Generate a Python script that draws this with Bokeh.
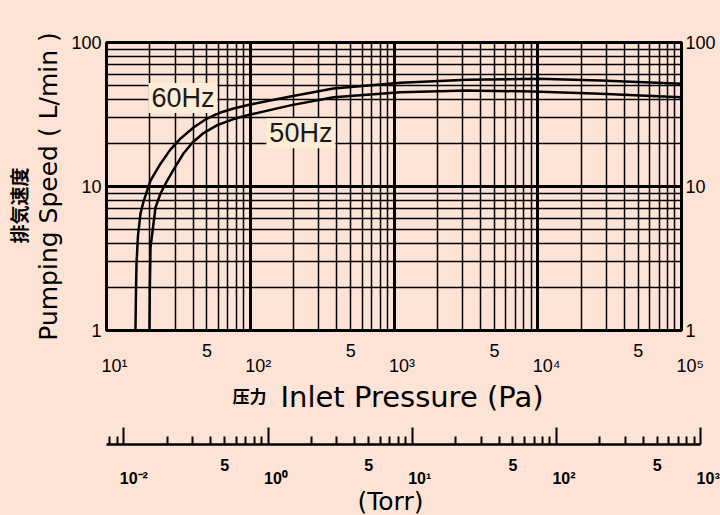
import math
from bokeh.plotting import figure
from bokeh.models import (FixedTicker, LogAxis, Label, Range1d, NumeralTickFormatter,
                          CustomJSTickFormatter, Title)
from bokeh.layouts import column
from bokeh.embed import file_html
from bokeh.resources import INLINE
from bokeh.core.properties import value

# ---------------- data ----------------
pressure_60hz = [15.9, 16.04, 16.17, 16.56, 17.24, 18.18, 20.24, 23.75, 27.9, 32.7, 40.3, 48.8,
                 59.2, 76.5, 100, 190, 379, 1110, 3240, 9960, 27300, 100000]
speed_60hz = [1.0, 1.9, 2.92, 4.57, 6.49, 7.99, 11.0, 14.4, 18.1, 21.5, 25.7, 29.2,
              32.1, 34.8, 37.1, 42.2, 47.9, 52.5, 55.1, 56.0, 54.5, 51.7]

pressure_50hz = [19.91, 20.01, 20.24, 21.06, 21.93, 23.75, 26.44, 30.2, 34.3, 39.7, 47.3, 58.9,
                 76.5, 100, 190, 379, 1110, 3240, 9330, 27300, 100000]
speed_50hz = [1.0, 1.9, 3.77, 5.19, 7.15, 8.94, 11.0, 13.8, 16.95, 20.2, 23.5, 26.7,
              29.4, 31.6, 36.6, 41.7, 45.2, 46.4, 45.7, 44.0, 41.7]

pa_decades = [10, 100, 1000, 10000, 100000]
pa_decade_labels = ["10¹", "10²", "10³", "10⁴", "10⁵"]
pa_fives = [50, 500, 5000, 50000]
speed_ticks = [1, 10, 100]

torr_decades = [0.1, 1, 10, 100, 1000]
torr_decade_labels = ["10⁻²", "10⁰", "10¹", "10²", "10³"]
torr_fives = [0.5, 5, 50, 500]

# ---------------- layout constants ----------------
BG = "#fce3d6"
BOX = "#fdecd6"
ARIAL = "Liberation Sans"
SANS = "DejaVu Sans"

W = 720
LEFT, TOP = 106, 42
FRAME_W, FRAME_H = 575, 288
MAIN_BOTTOM = 12
PX_DEC_X = FRAME_W / 4          # px per decade on the Pa axis
TORR_LEFT_PX = 123.3            # screen x of the first Torr decade tick
PX_DEC_T = 144.2                # px per decade on the Torr axis
TORR_AXIS_START_PX = 106

def pa_at_px(px):
    """Pa value at screen x (px)"""
    return 10 ** (1 + (px - LEFT) / PX_DEC_X)

def pa_shift(x, px):
    return x * 10 ** (px / PX_DEC_X)

def torr_at_px(px):
    return 10 ** (-1 + (px - TORR_LEFT_PX) / PX_DEC_T)

def torr_shift(x, px):
    return x * 10 ** (px / PX_DEC_T)

common = dict(output_backend="svg", toolbar_location=None, frame_align=False,
              background_fill_color=BG, border_fill_color=BG)

# ---------------- main chart ----------------
p = figure(x_axis_type="log", y_axis_type="log",
           x_range=Range1d(10, 100000), y_range=Range1d(1, 100),
           frame_width=FRAME_W, frame_height=FRAME_H,
           min_border_left=LEFT, min_border_right=W - LEFT - FRAME_W,
           min_border_top=TOP, min_border_bottom=MAIN_BOTTOM, **common)
p.outline_line_color = "black"
p.outline_line_width = 3

x_minor = [m * 10 ** d for d in range(1, 5) for m in range(2, 10)]
y_minor = [m * 10 ** d for d in range(0, 2) for m in range(2, 10)]
p.xgrid.ticker = FixedTicker(ticks=pa_decades, minor_ticks=x_minor)
p.ygrid.ticker = FixedTicker(ticks=speed_ticks, minor_ticks=y_minor)
for g in (p.xgrid, p.ygrid):
    g.grid_line_color = "black"
    g.grid_line_width = 3
    g.minor_grid_line_color = "black"
    g.minor_grid_line_width = 1.5

p.xaxis.visible = False

def style_y(ax):
    ax.ticker = FixedTicker(ticks=speed_ticks)
    ax.formatter = NumeralTickFormatter(format="0")
    ax.major_tick_out = 0
    ax.major_tick_in = 0
    ax.minor_tick_out = 0
    ax.minor_tick_in = 0
    ax.axis_line_color = None
    ax.major_label_text_font = ARIAL
    ax.major_label_text_font_size = "18px"
    ax.major_label_text_color = "black"
    ax.major_label_standoff = 5

style_y(p.yaxis[0])
p.yaxis.axis_label = "Pumping Speed ( L/min )"
p.yaxis.axis_label_text_font = SANS
p.yaxis.axis_label_text_font_size = "25px"
p.yaxis.axis_label_text_font_style = "normal"
p.yaxis.axis_label_text_color = "black"
p.yaxis.axis_label_standoff = 5

right = LogAxis()
style_y(right)
right.major_label_standoff = 4
p.add_layout(right, "right")

p.add_layout(Title(text="排気速度", align="left", offset=87, standoff=0,
                   text_font="Noto Sans CJK JP", text_font_style="bold",
                   text_font_size="19px", text_color="black"), "left")

p.line(pressure_60hz, speed_60hz, line_width=2.5, line_color="black")
p.line(pressure_50hz, speed_50hz, line_width=2.5, line_color="black")

for txt, x, y in (("60Hz", 34, 41.2), ("50Hz", 225, 23.4)):
    p.add_layout(Label(x=x, y=y, text=txt, text_align="center", text_baseline="middle",
                       text_font=ARIAL, text_font_size="27px", text_color="#1a1a1a",
                       background_fill_color=BOX,
                       padding=dict(left=3, right=3, top=0, bottom=0)))

# ---------------- Pa tick labels and title (y = pixels below the chart frame) ----------------
B1_H = 420 - (TOP + FRAME_H + MAIN_BOTTOM)
b1 = figure(x_axis_type="log", x_range=Range1d(pa_at_px(0), pa_at_px(W)),
            y_range=Range1d(-(MAIN_BOTTOM + B1_H), -MAIN_BOTTOM), width=W, height=B1_H,
            min_border_left=0, min_border_right=0, min_border_top=0, min_border_bottom=0,
            x_axis_location=None, y_axis_location=None, **common)
b1.outline_line_color = None
b1.grid.visible = False

b1.text(x=[pa_shift(x, -5) for x in pa_decades], y=[-35] * len(pa_decades), text=pa_decade_labels,
        text_font=value(ARIAL), text_font_size="18px", text_color="black",
        text_align="left", text_baseline="middle")
b1.text(x=pa_fives, y=[-20] * len(pa_fives), text=["5"] * len(pa_fives),
        text_font=value(ARIAL), text_font_size="18px", text_color="black",
        text_align="center", text_baseline="middle")
b1.text(x=[pa_at_px(232)], y=[-65], text=["压力"],
        text_font=value("Noto Sans CJK SC"), text_font_style="bold", text_font_size="17px",
        text_color="black", text_align="left", text_baseline="middle")
b1.text(x=[pa_at_px(280)], y=[-66], text=["Inlet Pressure (Pa)"],
        text_font=value(SANS), text_font_size="29px",
        text_color="black", text_align="left", text_baseline="middle")

# ---------------- Torr scale (y = pixels below the Torr axis line) ----------------
B2_H, B2_TOPB = 95, 24
t = figure(x_axis_type="log", x_axis_location="above",
           x_range=Range1d(torr_at_px(0), torr_at_px(W)),
           y_range=Range1d(-(B2_H - B2_TOPB), 0), width=W, height=B2_H,
           min_border_left=0, min_border_right=0, min_border_top=B2_TOPB, min_border_bottom=0,
           y_axis_location=None, **common)
t.outline_line_color = None
t.grid.visible = False
axis_start = torr_at_px(TORR_AXIS_START_PX)
torr_minor = [m * 10 ** d for d in range(-2, 3) for m in range(2, 10)
              if m * 10 ** d >= axis_start]
ax = t.xaxis[0]
ax.bounds = (axis_start, 1000)
ax.ticker = FixedTicker(ticks=torr_decades, minor_ticks=torr_minor)
ax.formatter = CustomJSTickFormatter(code="return ' '")
ax.major_label_text_alpha = 0
ax.major_label_text_font_size = "1px"
ax.major_label_standoff = 0
ax.major_tick_in = 0
ax.major_tick_out = 17
ax.minor_tick_in = 0
ax.minor_tick_out = 8
ax.major_tick_line_width = 2
ax.minor_tick_line_width = 2
ax.major_tick_line_color = "black"
ax.minor_tick_line_color = "black"
ax.axis_line_width = 2.5
ax.axis_line_color = "black"

t.text(x=[torr_shift(x, -4) for x in torr_decades], y=[-34] * len(torr_decades),
       text=torr_decade_labels, text_font=value(ARIAL), text_font_style="bold",
       text_font_size="16px", text_color="black", text_align="left", text_baseline="middle")
t.text(x=torr_fives, y=[-20] * len(torr_fives), text=["5"] * len(torr_fives),
       text_font=value(ARIAL), text_font_style="bold", text_font_size="16px",
       text_color="black", text_align="center", text_baseline="middle")
t.text(x=[torr_at_px(390)], y=[-57], text=["(Torr)"], text_font=value(SANS),
       text_font_size="25px", text_color="black", text_align="center", text_baseline="middle")

layout = column(p, b1, t, spacing=0, styles={"background-color": BG})
open("out.html", "w").write(file_html(layout, INLINE))
